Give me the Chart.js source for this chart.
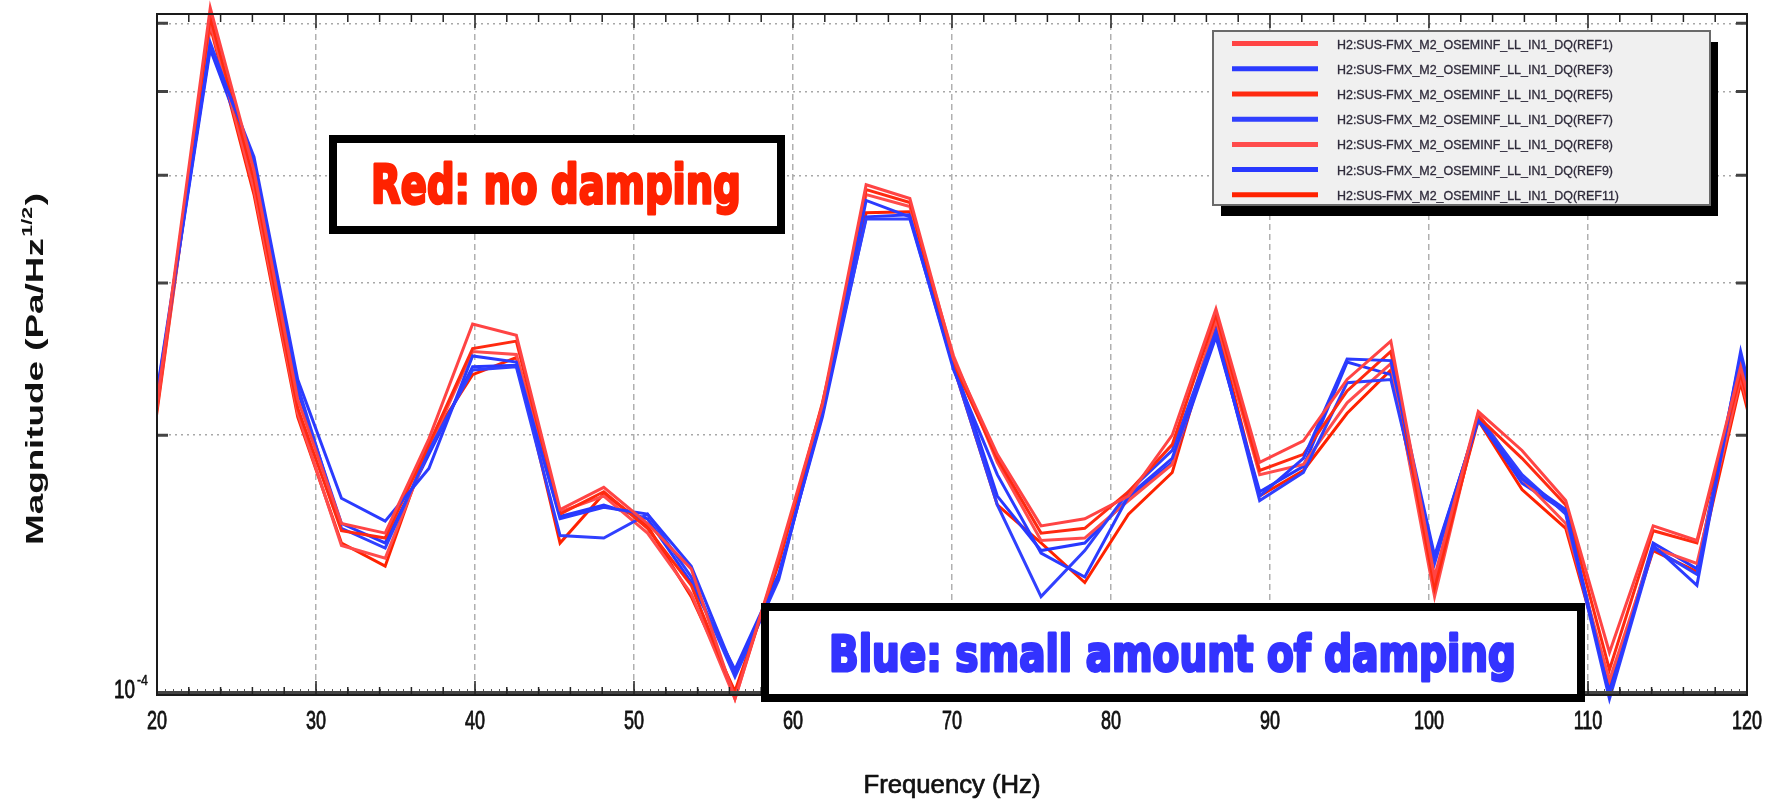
<!DOCTYPE html>
<html>
<head>
<meta charset="utf-8">
<script src="https://cdn.jsdelivr.net/npm/chart.js@4/dist/chart.umd.min.js"></script>
<style>
  html, body { margin: 0; padding: 0; background: #fff; }
  #wrap { width: 1781px; height: 808px; }
</style>
</head>
<body>
<div id="wrap"><canvas id="psd" width="1781" height="808"></canvas></div>
<script>
// Frequency bins (Hz) - the first and last lie just outside the axis range
const freqHz = [17.85, 20.6, 23.35, 26.1, 28.85, 31.6, 34.35, 37.1, 39.85, 42.6, 45.35, 48.1, 50.85, 53.6,
  56.35, 59.1, 61.85, 64.6, 67.35, 70.1, 72.85, 75.6, 78.35, 81.1, 83.85, 86.6, 89.35, 92.1, 94.85,
  97.6, 100.35, 103.1, 105.85, 108.6, 111.35, 114.1, 116.85, 119.6, 122.35];

// magnitudes in units of 1e-4 Pa/Hz^1/2
const ref1 = [1.13, 2.62, 6.25, 4.05, 2.20, 1.58, 1.54, 1.98, 2.69, 2.61, 1.64, 1.74, 1.58, 1.40, 0.99, 1.45, 2.17, 3.90, 3.76, 2.45,
  1.90, 1.57, 1.60, 1.70, 2.00, 2.80, 1.86, 1.97, 2.32, 2.57, 1.37, 2.13, 1.92, 1.68, 1.12, 1.57, 1.51, 2.40, 1.52];
const ref3 = [1.24, 2.65, 5.65, 4.20, 2.32, 1.69, 1.59, 1.83, 2.47, 2.43, 1.60, 1.65, 1.62, 1.41, 1.06, 1.37, 2.12, 3.74, 3.58, 2.38,
  1.80, 1.46, 1.37, 1.70, 1.88, 2.62, 1.70, 1.88, 2.45, 2.44, 1.45, 2.08, 1.78, 1.64, 1.00, 1.49, 1.34, 2.50, 1.55];
const ref5 = [1.15, 2.60, 6.10, 3.95, 2.15, 1.55, 1.52, 1.95, 2.52, 2.57, 1.62, 1.72, 1.56, 1.34, 1.00, 1.43, 2.15, 3.85, 3.72, 2.42,
  1.88, 1.54, 1.56, 1.72, 1.95, 2.76, 1.82, 1.90, 2.25, 2.50, 1.33, 2.10, 1.88, 1.66, 1.07, 1.55, 1.50, 2.36, 1.50];
const ref7 = [1.22, 2.62, 5.70, 4.15, 2.28, 1.56, 1.48, 1.92, 2.38, 2.40, 1.53, 1.52, 1.62, 1.37, 1.05, 1.36, 2.14, 3.56, 3.56, 2.40,
  1.66, 1.30, 1.47, 1.72, 1.92, 2.64, 1.68, 1.81, 2.30, 2.32, 1.42, 2.10, 1.80, 1.62, 0.99, 1.48, 1.38, 2.45, 1.52];
const ref8 = [1.12, 2.58, 6.00, 3.85, 2.12, 1.49, 1.44, 1.93, 2.50, 2.48, 1.63, 1.70, 1.54, 1.31, 0.99, 1.44, 2.13, 3.80, 3.68, 2.47,
  1.86, 1.51, 1.52, 1.68, 1.85, 2.72, 1.80, 1.85, 2.18, 2.42, 1.30, 2.12, 1.78, 1.58, 1.04, 1.48, 1.42, 2.33, 1.48];
const ref9 = [1.25, 2.63, 5.60, 4.10, 2.25, 1.58, 1.50, 1.90, 2.40, 2.41, 1.61, 1.66, 1.60, 1.35, 1.07, 1.38, 2.10, 3.58, 3.60, 2.43,
  1.70, 1.47, 1.50, 1.69, 1.86, 2.60, 1.72, 1.84, 2.43, 2.35, 1.44, 2.09, 1.76, 1.63, 1.01, 1.50, 1.40, 2.47, 1.50];
const ref11 = [1.10, 2.56, 5.95, 3.80, 2.10, 1.50, 1.41, 1.96, 2.35, 2.46, 1.50, 1.71, 1.57, 1.30, 1.01, 1.42, 2.18, 3.62, 3.63, 2.40,
  1.66, 1.50, 1.35, 1.62, 1.81, 2.70, 1.70, 1.82, 2.12, 2.38, 1.35, 2.08, 1.73, 1.56, 1.03, 1.47, 1.39, 2.30, 1.45];

const seriesLabels = [
  'H2:SUS-FMX_M2_OSEMINF_LL_IN1_DQ(REF1)',
  'H2:SUS-FMX_M2_OSEMINF_LL_IN1_DQ(REF3)',
  'H2:SUS-FMX_M2_OSEMINF_LL_IN1_DQ(REF5)',
  'H2:SUS-FMX_M2_OSEMINF_LL_IN1_DQ(REF7)',
  'H2:SUS-FMX_M2_OSEMINF_LL_IN1_DQ(REF8)',
  'H2:SUS-FMX_M2_OSEMINF_LL_IN1_DQ(REF9)',
  'H2:SUS-FMX_M2_OSEMINF_LL_IN1_DQ(REF11)'
];
const seriesValues = [ref1, ref3, ref5, ref7, ref8, ref9, ref11];
const seriesColors = ['#ff4444', '#2b3bff', '#ff2a10', '#3040ff', '#ff4c4c', '#2838ff', '#ff2200'];

const xTicks = [20, 30, 40, 50, 60, 70, 80, 90, 100, 110, 120];
const yTicks = [1e-4, 2e-4, 3e-4, 4e-4, 5e-4, 6e-4];
const xMin = 20, xMax = 120, yMin = 1e-4, yMax = 6.15e-4;

const FONT = '"Liberation Sans", Arial, Helvetica, sans-serif';
const HEAVY = '"DejaVu Sans", "Liberation Sans", sans-serif';

// draw text squeezed/stretched horizontally to a given width
function fitText(ctx, text, x, y, width, align, strokeW) {
  const w = ctx.measureText(text).width;
  const sx = width / w;
  ctx.save();
  ctx.translate(x, y);
  ctx.scale(sx, 1);
  ctx.textAlign = align || 'left';
  if (strokeW) {
    ctx.lineJoin = 'round';
    ctx.lineWidth = strokeW;
    ctx.strokeStyle = ctx.fillStyle;
    ctx.strokeText(text, 0, 0);
  }
  ctx.fillText(text, 0, 0);
  ctx.restore();
}

const decorations = {
  id: 'decorations',
  afterDraw(chart) {
    const { ctx, chartArea: a, scales } = chart;
    const x = scales.x, y = scales.y;
    ctx.save();

    // dense little ticks along the bottom edge
    ctx.strokeStyle = '#555';
    ctx.lineWidth = 1;
    ctx.beginPath();
    for (let f = xMin; f <= xMax; f += 0.5) {
      const px = Math.round(x.getPixelForValue(f)) + 0.5;
      ctx.moveTo(px, a.bottom); ctx.lineTo(px, a.bottom - 6);
    }
    ctx.stroke();
    ctx.fillStyle = '#444';
    ctx.fillRect(a.left, a.bottom - 4, a.right - a.left, 4);

    // minor / major ticks top and bottom
    ctx.strokeStyle = '#222';
    ctx.lineWidth = 1.5;
    ctx.beginPath();
    for (let f = xMin; f <= xMax; f += 2) {
      const px = x.getPixelForValue(f);
      const len = (f % 10 === 0) ? 14 : 8;
      ctx.moveTo(px, a.bottom); ctx.lineTo(px, a.bottom - len);
      ctx.moveTo(px, a.top); ctx.lineTo(px, a.top + len);
    }
    ctx.stroke();

    // y ticks left / right
    ctx.strokeStyle = '#444';
    ctx.lineWidth = 3;
    ctx.beginPath();
    yTicks.forEach(v => {
      if (v === yMin) return;
      const py = y.getPixelForValue(v);
      ctx.moveTo(a.left, py); ctx.lineTo(a.left + 11, py);
      ctx.moveTo(a.right, py); ctx.lineTo(a.right - 11, py);
    });
    ctx.stroke();

    // frame
    ctx.strokeStyle = '#1a1a1a';
    ctx.lineWidth = 2;
    ctx.strokeRect(a.left, a.top, a.right - a.left, a.bottom - a.top);

    // x tick labels
    ctx.fillStyle = '#111';
    ctx.font = '25px ' + FONT;
    ctx.textBaseline = 'alphabetic';
    xTicks.forEach(v => {
      const label = String(v);
      const w = ctx.measureText(label).width * 0.72;
      fitText(ctx, label, x.getPixelForValue(v), 729, w, 'center', 0.8);
    });

    // y tick label 10^-4
    const p0 = y.getPixelForValue(yMin);
    ctx.font = '26px ' + FONT;
    fitText(ctx, '10', 135, p0 + 3, 21, 'right', 0.8);
    ctx.font = '15px ' + FONT;
    fitText(ctx, '-4', 137, p0 - 10, 11, 'left', 0.5);

    // axis titles
    ctx.font = '26px ' + FONT;
    fitText(ctx, 'Frequency (Hz)', (a.left + a.right) / 2, 793, 177, 'center', 0.7);

    ctx.save();
    ctx.translate(43, 369);
    ctx.rotate(-Math.PI / 2);
    ctx.font = 'bold 24px ' + FONT;
    const main = 'Magnitude (Pa/Hz';
    const wMain = ctx.measureText(main).width;
    const wClose = ctx.measureText(')').width;
    ctx.font = 'bold 14px ' + FONT;
    const wSup = ctx.measureText('1/2').width + 2;
    const total = wMain + wSup + wClose;
    const s = 352 / total;
    ctx.scale(s, 1);
    ctx.textAlign = 'left';
    ctx.fillStyle = '#111';
    ctx.font = 'bold 24px ' + FONT;
    ctx.fillText(main, -total / 2, 0);
    ctx.font = 'bold 14px ' + FONT;
    ctx.fillText('1/2', -total / 2 + wMain + 1, -11);
    ctx.font = 'bold 24px ' + FONT;
    ctx.fillText(')', -total / 2 + wMain + wSup, 0);
    ctx.restore();

    // legend box
    const lx = 1213, ly = 31, lw = 497, lh = 174;
    ctx.fillStyle = '#000';
    ctx.fillRect(lx + 8, ly + 11, lw, lh);
    ctx.fillStyle = '#f0f0f0';
    ctx.fillRect(lx, ly, lw, lh);
    ctx.strokeStyle = '#6a6a6a';
    ctx.lineWidth = 2;
    ctx.strokeRect(lx, ly, lw, lh);
    ctx.font = '12px ' + FONT;
    const sxLeg = 276 / ctx.measureText(seriesLabels[0]).width;
    chart.data.datasets.forEach((ds, i) => {
      const cy = 43.6 + 25.2 * i;
      ctx.strokeStyle = ds.borderColor;
      ctx.lineWidth = 5;
      ctx.beginPath();
      ctx.moveTo(1232, cy); ctx.lineTo(1318, cy);
      ctx.stroke();
      ctx.fillStyle = '#2e2a3a';
      const w = ctx.measureText(ds.label).width * sxLeg;
      fitText(ctx, ds.label, 1337, cy + 5, w, 'left', 0.3);
    });

    // annotation boxes
    function noteBox(x0, y0, x1, y1, text, color, fontPx, tx, ty, tw) {
      ctx.fillStyle = '#fff';
      ctx.fillRect(x0, y0, x1 - x0, y1 - y0);
      ctx.strokeStyle = '#000';
      ctx.lineWidth = 8;
      ctx.strokeRect(x0 + 4, y0 + 4, x1 - x0 - 8, y1 - y0 - 8);
      ctx.fillStyle = color;
      ctx.font = 'bold ' + fontPx + 'px ' + HEAVY;
      fitText(ctx, text, tx, ty, tw, 'left', 3);
    }
    noteBox(329, 135, 785, 234, 'Red: no damping', '#ff2200', 53, 371, 203, 370);
    noteBox(761, 603, 1585, 702, 'Blue: small amount of damping', '#3333ff', 50, 829, 671, 687);

    ctx.restore();
  }
};

const datasets = seriesValues.map((vals, i) => ({
  label: seriesLabels[i],
  data: freqHz.map((f, j) => ({ x: f, y: vals[j] * 1e-4 })),
  borderColor: seriesColors[i],
  backgroundColor: seriesColors[i],
  borderWidth: 3,
  pointRadius: 0,
  tension: 0,
  fill: false,
  clip: { left: 0, top: false, right: 0, bottom: false }
}));

new Chart(document.getElementById('psd'), {
  type: 'line',
  data: { datasets },
  options: {
    responsive: false,
    animation: false,
    events: [],
    layout: { padding: { top: 14, right: 34, left: 0, bottom: 0 } },
    plugins: { legend: { display: false }, tooltip: { enabled: false } },
    scales: {
      x: {
        type: 'linear', min: xMin, max: xMax,
        afterBuildTicks: s => { s.ticks = xTicks.map(v => ({ value: v })); },
        afterFit: s => { s.height = 113; },
        ticks: { display: false },
        grid: {
          drawTicks: false, lineWidth: 1.5,
          color: c => (c.tick && (c.tick.value === xMin || c.tick.value === xMax)) ? 'rgba(0,0,0,0)' : '#b0b0b0'
        },
        border: { display: false, dash: [6, 4] }
      },
      y: {
        type: 'logarithmic', min: yMin, max: yMax,
        afterBuildTicks: s => { s.ticks = yTicks.map(v => ({ value: v })); },
        afterFit: s => { s.width = 157; },
        ticks: { display: false },
        grid: {
          drawTicks: false, lineWidth: 1.5,
          color: c => (c.tick && c.tick.value === yMin) ? 'rgba(0,0,0,0)' : '#a8a8a8'
        },
        border: { display: false, dash: [2, 4] }
      }
    }
  },
  plugins: [decorations]
});
</script>
</body>
</html>
